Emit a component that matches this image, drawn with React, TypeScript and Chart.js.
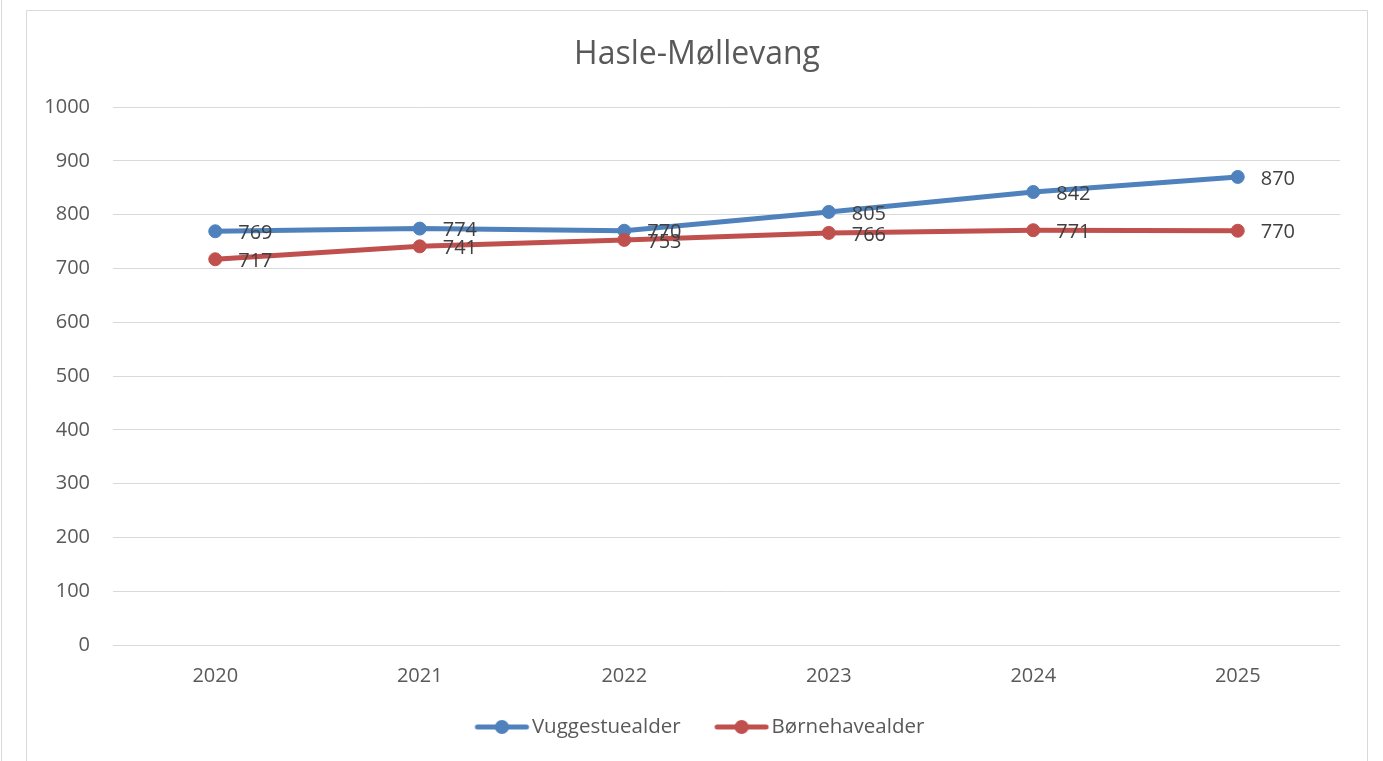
import React, { useEffect, useRef } from "react";
import { Chart, registerables } from "chart.js";

Chart.register(...registerables);

const categories = ["2020", "2021", "2022", "2023", "2024", "2025"];
const vuggestueValues = [769, 774, 770, 805, 842, 870];
const boernehaveValues = [717, 741, 753, 766, 771, 770];
const seriesNames = ["Vuggestuealder", "Børnehavealder"];
const seriesColors = ["#4F81BD", "#C0504D"];
const chartTitle = "Hasle-Møllevang";
const yMin = 0;
const yMax = 1000;
const yStep = 100;

const FONT = "'Open Sans', 'Liberation Sans', sans-serif";

function legendImage(color: string): HTMLCanvasElement {
  const c = document.createElement("canvas");
  c.width = 68;
  c.height = 16;
  const ctx = c.getContext("2d")!;
  ctx.strokeStyle = color;
  ctx.lineWidth = 5;
  ctx.lineCap = "round";
  ctx.beginPath();
  ctx.moveTo(15.75, 8);
  ctx.lineTo(64.75, 8);
  ctx.stroke();
  ctx.fillStyle = color;
  ctx.beginPath();
  ctx.arc(40.25, 8, 7, 0, Math.PI * 2);
  ctx.fill();
  return c;
}

const framePlugin = {
  id: "frame",
  beforeDraw(chart: any) {
    const ctx = chart.ctx;
    ctx.save();
    ctx.strokeStyle = "#d9d9d9";
    ctx.lineWidth = 1;
    ctx.beginPath();
    ctx.moveTo(1.5, 0);
    ctx.lineTo(1.5, chart.height);
    ctx.moveTo(26.5, chart.height + 2);
    ctx.lineTo(26.5, 10.5);
    ctx.lineTo(1367.5, 10.5);
    ctx.lineTo(1367.5, chart.height + 2);
    ctx.stroke();
    ctx.restore();
  },
};

const dataLabelPlugin = {
  id: "dataLabels",
  afterDatasetsDraw(chart: any) {
    const ctx = chart.ctx;
    ctx.save();
    ctx.font = `20px ${FONT}`;
    ctx.fillStyle = "#404040";
    ctx.textAlign = "left";
    ctx.textBaseline = "middle";
    chart.data.datasets.forEach((ds: any, di: number) => {
      const meta = chart.getDatasetMeta(di);
      meta.data.forEach((pt: any, i: number) => {
        ctx.fillText(String(ds.data[i]), pt.x + 23, pt.y + 2);
      });
    });
    ctx.restore();
  },
};

export default function App() {
  const canvasRef = useRef<HTMLCanvasElement | null>(null);

  useEffect(() => {
    const canvas = canvasRef.current;
    if (!canvas) return;
    const images = seriesColors.map(legendImage);
    const chart = new Chart(canvas, {
      type: "line",
      data: {
        labels: categories,
        datasets: [
          {
            label: seriesNames[0],
            data: vuggestueValues,
            borderColor: seriesColors[0],
            backgroundColor: seriesColors[0],
            pointBackgroundColor: seriesColors[0],
            pointBorderColor: seriesColors[0],
            borderWidth: 5,
            pointRadius: 6.5,
            pointBorderWidth: 1,
            tension: 0,
            order: 2,
          },
          {
            label: seriesNames[1],
            data: boernehaveValues,
            borderColor: seriesColors[1],
            backgroundColor: seriesColors[1],
            pointBackgroundColor: seriesColors[1],
            pointBorderColor: seriesColors[1],
            borderWidth: 5,
            pointRadius: 6.5,
            pointBorderWidth: 1,
            tension: 0,
            order: 1,
          },
        ],
      },
      options: {
        responsive: false,
        animation: false,
        devicePixelRatio: 1,
        layout: { padding: { left: 26, right: 15, top: 0, bottom: 13.75 } },
        plugins: {
          tooltip: { enabled: false },
          title: {
            display: true,
            text: chartTitle,
            color: "#595959",
            font: { family: FONT, size: 32, weight: "normal" },
            padding: { top: 36, bottom: 32.6 },
          },
          legend: {
            display: true,
            position: "bottom",
            labels: {
              usePointStyle: true,
              pointStyleWidth: 52,
              padding: 28.75,
              color: "#595959",
              font: { family: FONT, size: 20.5 },
              sort: (a: any, b: any) => a.datasetIndex - b.datasetIndex,
              generateLabels: (ch: any) => {
                const items = (Chart.defaults.plugins.legend.labels as any).generateLabels(ch);
                return items.map((it: any) => ({ ...it, pointStyle: images[it.datasetIndex] }));
              },
            },
          },
        },
        scales: {
          x: {
            offset: true,
            grid: { display: false, drawTicks: false, offset: true },
            border: { display: false },
            ticks: { color: "#595959", font: { family: FONT, size: 20 }, padding: 19 },
            afterFit: (s: any) => {
              s.height = 43;
            },
          },
          y: {
            min: yMin,
            max: yMax,
            ticks: {
              stepSize: yStep,
              color: "#595959",
              font: { family: FONT, size: 20 },
              padding: 23,
              callback: (v: any) => String(v),
            },
            grid: { color: "#d9d9d9", lineWidth: 1, drawTicks: false },
            border: { display: false },
            afterFit: (s: any) => {
              s.width = 87;
            },
          },
          yRight: {
            position: "right",
            display: true,
            min: yMin,
            max: yMax,
            ticks: { display: false },
            grid: { display: false, drawTicks: false },
            border: { display: false },
            afterFit: (s: any) => {
              s.width = 28;
            },
          },
        },
      },
      plugins: [framePlugin, dataLabelPlugin],
    } as any);
    return () => chart.destroy();
  }, []);

  return (
    <div style={{ position: "fixed", left: 0, top: 0, width: 1383, height: 761, background: "#fff" }}>
      <canvas ref={canvasRef} width={1383} height={761} style={{ width: 1383, height: 761, display: "block" }} />
    </div>
  );
}
